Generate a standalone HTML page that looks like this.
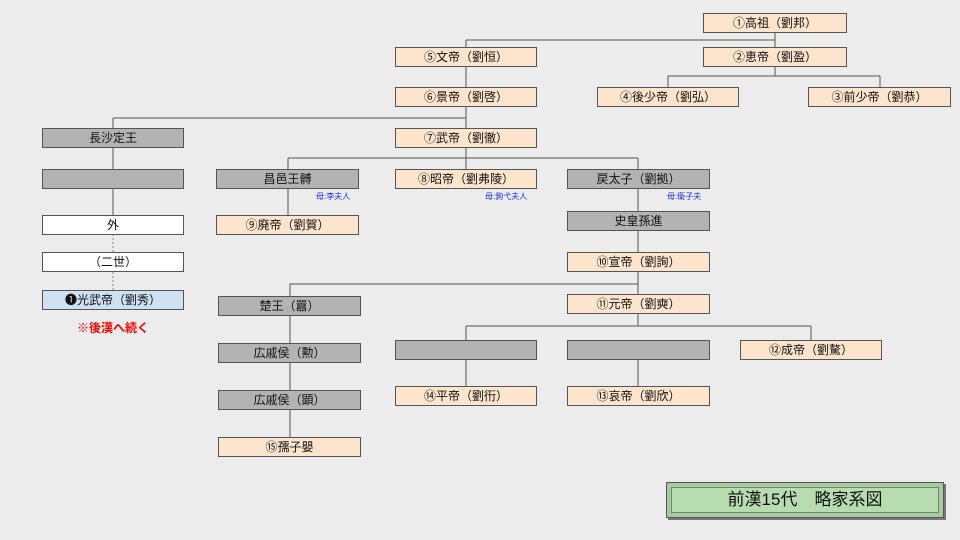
<!DOCTYPE html>
<html><head><meta charset="utf-8"><style>
body{margin:0;width:960px;height:540px;background:#ececec;position:relative;overflow:hidden;font-family:"Liberation Sans","Noto Sans CJK JP",sans-serif;}
.b{position:absolute;height:18px;border:1px solid #555;font-size:12px;line-height:18px;text-align:center;color:#111;box-sizing:content-box;white-space:nowrap}
.p{background:#fde4cc}.g{background:#b3b3b3}.w{background:#fff}.l{background:#cfe0f0}
.m{position:absolute;font-size:8px;color:#1a2bff}
svg{position:absolute;left:0;top:0}
</style></head><body>
<svg width="960" height="540"><g stroke="#555" stroke-width="1" fill="none">
<path d="M775 33V40M466 40H775M466 40V47M775 40V47"/>
<path d="M775 67V76M668 76H880M668 76V87M880 76V87"/>
<path d="M466 67V87M466 107V118M113 118H466M113 118V128M466 118V128"/>
<path d="M466 148V158M288 158H638M288 158V169M466 158V169M638 158V169"/>
<path d="M113 148V169M113 189V215M288 189V215"/>
<path d="M638 189V211M638 231V252M638 272V294M638 284H290V296"/>
<path d="M290 316V343M290 363V390M290 410V437"/>
<path d="M638 314V326M466 326H811M466 326V340M811 326V340M466 360V386M638 360V386"/>
</g><g stroke="#888" stroke-dasharray="2,2"><path d="M113 234V252M113 272V290"/></g></svg>
<div class="b p" style="left:703px;top:13px;width:142px">①高祖（劉邦）</div>
<div class="b p" style="left:395px;top:47px;width:140px">⑤文帝（劉恒）</div>
<div class="b p" style="left:703px;top:47px;width:142px">②恵帝（劉盈）</div>
<div class="b p" style="left:395px;top:87px;width:140px">⑥景帝（劉啓）</div>
<div class="b p" style="left:597px;top:87px;width:140px">④後少帝（劉弘）</div>
<div class="b p" style="left:808px;top:87px;width:141px">③前少帝（劉恭）</div>
<div class="b g" style="left:42px;top:128px;width:140px">長沙定王</div>
<div class="b p" style="left:395px;top:128px;width:140px">⑦武帝（劉徹）</div>
<div class="b g" style="left:42px;top:169px;width:140px"></div>
<div class="b g" style="left:216px;top:169px;width:141px">昌邑王髆</div>
<div class="b p" style="left:395px;top:169px;width:140px">⑧昭帝（劉弗陵）</div>
<div class="b g" style="left:567px;top:169px;width:141px">戻太子（劉拠）</div>
<div class="m" style="left:316px;top:191px">母:李夫人</div>
<div class="m" style="left:485px;top:191px">母:鉤弋夫人</div>
<div class="m" style="left:667px;top:191px">母:衛子夫</div>
<div class="b w" style="left:42px;top:215px;width:140px">外</div>
<div class="b p" style="left:216px;top:215px;width:141px">⑨廃帝（劉賀）</div>
<div class="b g" style="left:567px;top:211px;width:141px">史皇孫進</div>
<div class="b w" style="left:42px;top:252px;width:140px">（二世）</div>
<div class="b p" style="left:567px;top:252px;width:141px">⑩宣帝（劉詢）</div>
<div class="b l" style="left:42px;top:290px;width:140px">❶光武帝（劉秀）</div>
<div style="position:absolute;left:42px;top:319px;width:142px;text-align:center;color:#f00;font-weight:bold;font-size:12px">※後漢へ続く</div>
<div class="b g" style="left:218px;top:296px;width:141px">楚王（囂）</div>
<div class="b p" style="left:567px;top:294px;width:141px">⑪元帝（劉奭）</div>
<div class="b g" style="left:395px;top:340px;width:140px"></div>
<div class="b g" style="left:567px;top:340px;width:141px"></div>
<div class="b p" style="left:740px;top:340px;width:140px">⑫成帝（劉驁）</div>
<div class="b g" style="left:218px;top:343px;width:141px">広戚侯（勲）</div>
<div class="b p" style="left:395px;top:386px;width:140px">⑭平帝（劉衎）</div>
<div class="b p" style="left:567px;top:386px;width:141px">⑬哀帝（劉欣）</div>
<div class="b g" style="left:218px;top:390px;width:141px">広戚侯（顕）</div>
<div class="b p" style="left:218px;top:437px;width:141px">⑮孺子嬰</div>
<div style="position:absolute;left:666px;top:482px;width:276px;height:34px;border:1px solid #555;background:#a8c8a0;box-shadow:2px 2px 0 #777"><div style="position:absolute;left:4px;top:4px;right:4px;bottom:4px;background:#b7dcb0;border:1px solid #6a8a6a;text-align:center;line-height:24px;font-size:17px;color:#111">前漢15代　略家系図</div></div>
</body></html>
